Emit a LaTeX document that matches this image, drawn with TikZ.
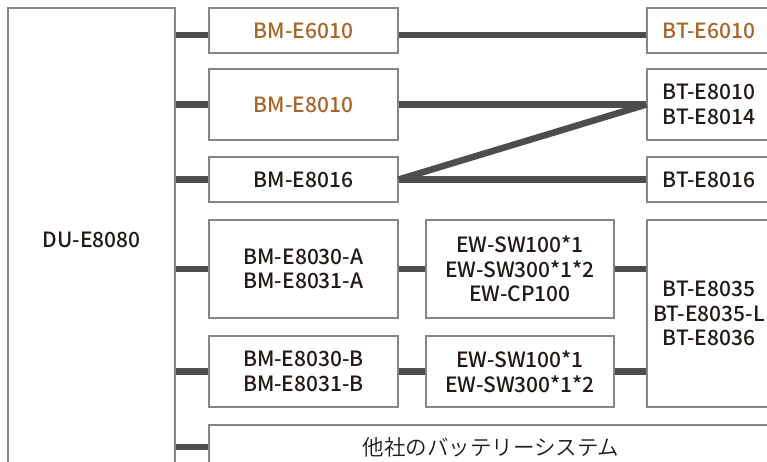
\documentclass[tikz,border=0pt]{standalone}
\usepackage{fontspec}
\setmainfont{Noto Sans CJK JP}[UprightFont={* Medium}]
\newfontfamily\jplight{Noto Sans CJK JP}[UprightFont={* DemiLight}]
\usetikzlibrary{calc}
\definecolor{wirecol}{HTML}{4D4D4D}
\definecolor{boxcol}{HTML}{858585}
\definecolor{labelorange}{HTML}{A8652A}
\definecolor{labelblack}{HTML}{231815}
\tikzset{
    unitbox/.style = {rectangle, draw=boxcol, line width=1.2pt, fill=white, inner sep=0pt, text=labelblack, align=center, font=\fontsize{21}{24.5}\selectfont},
    oldunit/.style = {unitbox, text=labelorange},
    wire/.style = {draw=wirecol, line width=6.5pt}
}

\begin{document}
\begin{tikzpicture}[x=1pt, y=-1pt]
	\useasboundingbox (0,0) rectangle (767,461);
	\clip (0,0) rectangle (767,461);

	\node[unitbox, minimum width=167pt, minimum height=464pt] (du) at (91.5, 240) {DU-E8080};

	\node[oldunit, minimum width=189pt, minimum height=45pt] (bm6010) at (303.5, 30.5) {BM-E6010};
	\node[oldunit, minimum width=189pt, minimum height=71pt] (bm8010) at (303.5, 104.5) {BM-E8010};
	\node[unitbox, minimum width=189pt, minimum height=45pt] (bm8016) at (303.5, 179.5) {BM-E8016};
	\node[unitbox, minimum width=189pt, minimum height=98pt] (bm8030a) at (303.5, 269) {BM-E8030-A\\BM-E8031-A};
	\node[unitbox, minimum width=189pt, minimum height=71pt] (bm8030b) at (303.5, 371.5) {BM-E8030-B\\BM-E8031-B};

	\node[unitbox, minimum width=188pt, minimum height=98pt] (ewa) at (520, 269) {EW-SW100*1\\EW-SW300*1*2\\EW-CP100};
	\node[unitbox, minimum width=188pt, minimum height=71pt] (ewb) at (520, 371.5) {EW-SW100*1\\EW-SW300*1*2};

	\node[oldunit, minimum width=124pt, minimum height=45pt] (bt6010) at (709, 30.5) {BT-E6010};
	\node[unitbox, minimum width=124pt, minimum height=71pt] (bt8010) at (709, 104.5) {BT-E8010\\BT-E8014};
	\node[unitbox, minimum width=124pt, minimum height=45pt] (bt8016) at (709, 179.5) {BT-E8016};
	\node[unitbox, minimum width=124pt, minimum height=187pt] (bt8035) at (709, 313.5) {BT-E8035\\BT-E8035-L\\BT-E8036};

	\node[unitbox, minimum width=564pt, minimum height=44pt, font=\jplight\fontsize{21.5}{24}\selectfont] (other) at (491, 447) {他社のバッテリーシステム};

	% first row runs a little below the box middle
	\path (bm6010.west) ++(0, 4.5) coordinate (w1);
	\draw[wire] (w1 -| du.east) -- (w1);
	\draw[wire] (w1 -| bm6010.east) -- (w1 -| bt6010.west);

	\draw[wire] (du.east |- bm8010.west) -- (bm8010.west);
	\draw[wire] (bm8010.east) -- (bt8010.west);

	\draw[wire] (du.east |- bm8016.west) -- (bm8016.west);
	\draw[wire] (bm8016.east) -- (bt8016.west);
	\draw[wire] (bm8016.east) -- (bt8010.west);

	\draw[wire] (du.east |- bm8030a.west) -- (bm8030a.west);
	\draw[wire] (bm8030a.east) -- (ewa.west);
	\draw[wire] (ewa.east) -- (ewa.east -| bt8035.west);

	\draw[wire] (du.east |- bm8030b.west) -- (bm8030b.west);
	\draw[wire] (bm8030b.east) -- (ewb.west);
	\draw[wire] (ewb.east) -- (ewb.east -| bt8035.west);

	\draw[wire] (du.east |- other.west) -- (other.west);
\end{tikzpicture}
\end{document}
